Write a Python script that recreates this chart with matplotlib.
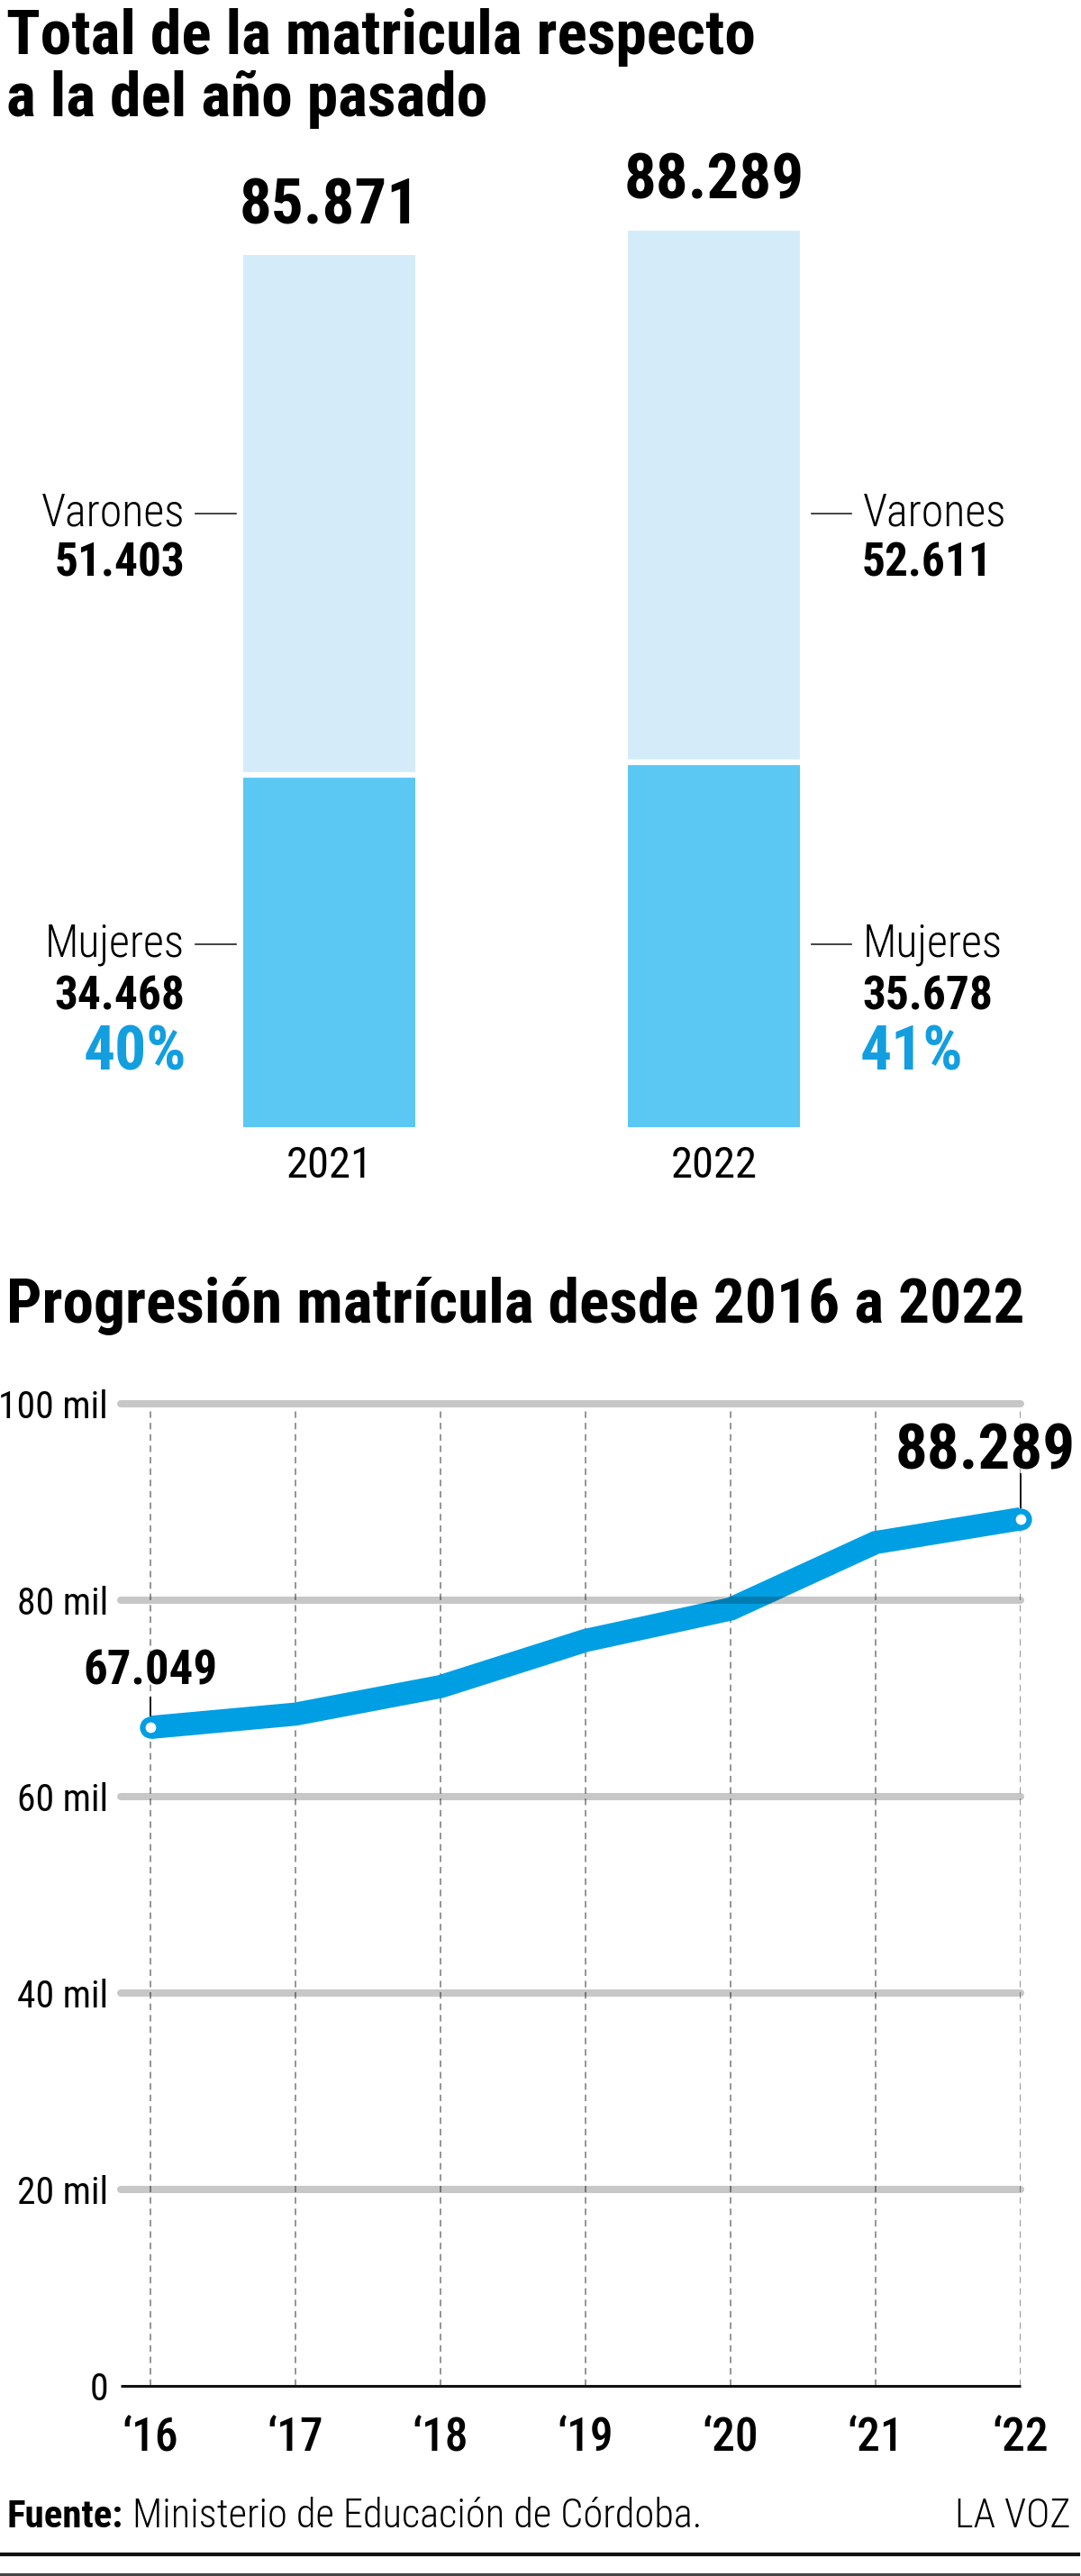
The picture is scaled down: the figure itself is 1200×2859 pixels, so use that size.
import matplotlib
matplotlib.use('Agg')
import matplotlib.pyplot as plt
from matplotlib import font_manager as fm
from matplotlib.lines import Line2D

# ---------------------------------------------------------------
#   Matricula 2021 vs 2022 + progresion 2016-2022 (La Voz style)
# ---------------------------------------------------------------

W, H = 1200, 2859

# data: barras apiladas
years_bar = ['2021', '2022']
mujeres = [34468, 35678]
varones = [51403, 52611]
totales = [85871, 88289]
pct_mujeres = ['40%', '41%']

# data: progresion
years_line = ['\u201816', '\u201817', '\u201818', '\u201819', '\u201820', '\u201821', '\u201822']
matricula = [67049, 68400, 71200, 75900, 79100, 85871, 88289]
y_ticks = [0, 20000, 40000, 60000, 80000, 100000]
y_labels = ['0', '20 mil', '40 mil', '60 mil', '80 mil', '100 mil']

LIGHT = '#d4ecfa'
DARK = '#5bc7f3'
BLUE = '#009fe3'
PCT = '#139ee0'

installed = {f.name for f in fm.fontManager.ttflist}


def pick(*names):
    for n in names:
        if n in installed:
            return n
    return 'DejaVu Sans'


COND = pick('Roboto Condensed', 'Liberation Sans Narrow', 'Open Sans Condensed', 'DejaVu Sans')
plt.rcParams['font.family'] = [COND, 'DejaVu Sans']
plt.rcParams['font.stretch'] = 'condensed'


def fmt(n):
    return f'{n:,}'.replace(',', '.')


fig = plt.figure(figsize=(W / 100, H / 100), dpi=100)
fig.patch.set_facecolor('white')


def ftxt(x, y, s, **kw):
    # x, y in pixels from top-left, baseline anchored
    kw.setdefault('va', 'baseline')
    fig.text(x / W, 1 - y / H, s, **kw)


def fline(x0, x1, y, **kw):
    fig.add_artist(Line2D([x0 / W, x1 / W], [1 - y / H, 1 - y / H], transform=fig.transFigure, **kw))


# ---------------- titulo 1 ----------------
ftxt(7, 60, 'Total de la matricula respecto', fontsize=50, fontweight='black')
ftxt(7, 129, 'a la del año pasado', fontsize=50, fontweight='black')

# ---------------- barras ----------------
bar_top_px, bar_bot_px = 150, 1251
units_per_px = 88.7
ax1 = fig.add_axes([0, 1 - bar_bot_px / H, 1, (bar_bot_px - bar_top_px) / H])
spacing = 427.0
c0 = 365.5
xs_bar = [0, 1]
width = 191 / spacing
ax1.bar(xs_bar, mujeres, width, color=DARK, zorder=2)
ax1.bar(xs_bar, varones, width, bottom=mujeres, color=LIGHT, zorder=2)
for i in xs_bar:
    ax1.hlines(mujeres[i] + 250, i - width / 2, i + width / 2, colors='white', lw=4.5, zorder=3)
ax1.set_xlim(-c0 / spacing, (W - c0) / spacing)
ax1.set_ylim(0, (bar_bot_px - bar_top_px) * units_per_px)
ax1.axis('off')

for i in xs_bar:
    ax1.annotate(fmt(totales[i]), xy=(i, totales[i]), xytext=(0, 25), textcoords='offset points',
                 ha='center', va='baseline', fontsize=51, fontweight='black')
    ax1.annotate(years_bar[i], xy=(i, 0), xytext=(0, -40), textcoords='offset points',
                 ha='center', va='baseline', fontsize=35)

# etiquetas laterales
ftxt(205, 583, 'Varones', ha='right', fontsize=36, fontweight='light')
ftxt(205, 640, fmt(varones[0]), ha='right', fontsize=37, fontweight='bold')
ftxt(205, 1062, 'Mujeres', ha='right', fontsize=36, fontweight='light')
ftxt(205, 1120, fmt(mujeres[0]), ha='right', fontsize=37, fontweight='bold')
ftxt(207, 1187, pct_mujeres[0], ha='right', fontsize=50, fontweight='bold', color=PCT)
fline(217, 262, 570, color='#222222', lw=1.2)
fline(217, 262, 1048, color='#222222', lw=1.2)

ftxt(958, 583, 'Varones', ha='left', fontsize=36, fontweight='light')
ftxt(957, 640, fmt(varones[1]), ha='left', fontsize=37, fontweight='bold')
ftxt(958, 1062, 'Mujeres', ha='left', fontsize=36, fontweight='light')
ftxt(957, 1120, fmt(mujeres[1]), ha='left', fontsize=37, fontweight='bold')
ftxt(955, 1187, pct_mujeres[1], ha='left', fontsize=50, fontweight='bold', color=PCT)
fline(901, 945, 570, color='#222222', lw=1.2)
fline(901, 945, 1048, color='#222222', lw=1.2)

# ---------------- titulo 2 ----------------
ftxt(7, 1468, 'Progresión matrícula desde 2016 a 2022', fontsize=50, fontweight='black')

# ---------------- linea ----------------
left_px, right_px = 134, 1133
top_px, bot_px = 1558, 2648
x0_px = 167
step = (right_px - x0_px) / 6
ax2 = fig.add_axes([left_px / W, 1 - bot_px / H, (right_px - left_px) / W, (bot_px - top_px) / H])
xs = list(range(len(matricula)))
xl = -(x0_px - left_px) / step
ax2.set_xlim(xl, xs[-1])
ax2.set_ylim(0, 100000)

ax2.vlines(xs, 0, 99300, colors='#8c8c8c', linestyles=(0, (4, 3)), lw=1.3, zorder=1)
grid = ax2.hlines(y_ticks[1:], xl, xs[-1], colors='black', alpha=0.22, lw=5.8, zorder=3)
grid.set_capstyle('round')
grid.set_clip_on(False)
zero = ax2.hlines(0, xl, xs[-1], colors='#111111', lw=2.2, zorder=3)
zero.set_clip_on(False)

ax2.plot(xs, matricula, color=BLUE, lw=18.5, solid_capstyle='butt', solid_joinstyle='miter',
         zorder=2, clip_on=False)
ax2.plot([xs[0], xs[-1]], [matricula[0], matricula[-1]], 'o', ms=13, mfc='white', mec=BLUE,
         mew=4.5, zorder=4, clip_on=False)

ax2.annotate(fmt(matricula[0]), xy=(xs[0], matricula[0]), xytext=(0, 34.5), textcoords='offset points',
             ha='center', va='baseline', fontsize=38, fontweight='black')
ax2.annotate('', xy=(xs[0], matricula[0]), xytext=(0, 23.8), textcoords='offset points',
             arrowprops=dict(arrowstyle='-', color='black', lw=1.3, shrinkA=0, shrinkB=9.4))
ax2.annotate(fmt(matricula[-1]), xy=(xs[-1], matricula[-1]), xytext=(44, 39.6), textcoords='offset points',
             ha='right', va='baseline', fontsize=51, fontweight='black', annotation_clip=False)
ax2.annotate('', xy=(xs[-1], matricula[-1]), xytext=(0, 36), textcoords='offset points',
             arrowprops=dict(arrowstyle='-', color='black', lw=1.3, shrinkA=0, shrinkB=8.6))

ax2.set_yticks(y_ticks, y_labels, fontsize=30)
ax2.set_xticks(xs, years_line, fontsize=37, fontweight='medium')
ax2.tick_params(axis='y', length=0, pad=10)
ax2.tick_params(axis='x', length=0, pad=24)
for s in ax2.spines.values():
    s.set_visible(False)
ax2.set_facecolor('none')

# ---------------- pie ----------------
ftxt(7, 2805, 'Fuente:', fontsize=31, fontweight='bold')
ftxt(147, 2805, 'Ministerio de Educación de Córdoba.', fontsize=32, fontweight='light')
ftxt(1188, 2805, 'LA VOZ', ha='right', fontsize=32, fontweight='light')
fline(0, 1197, 2835, color='#111111', lw=3)
fline(0, 1197, 2857, color='#444444', lw=2.2)

fig.savefig('out.png', dpi=100, facecolor='white')
